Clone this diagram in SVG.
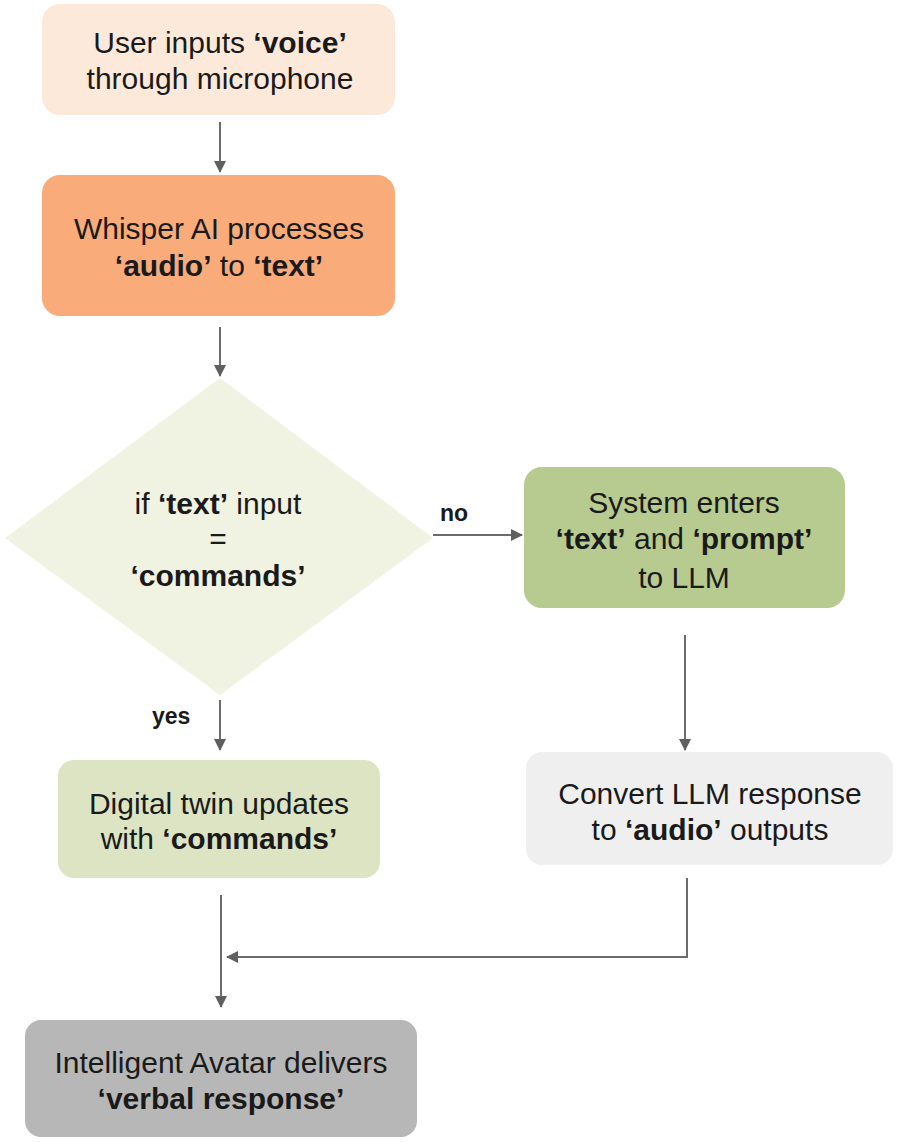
<svg xmlns="http://www.w3.org/2000/svg" width="899" height="1142" viewBox="0 0 899 1142">
<defs>
<style>
.t{font-family:"Liberation Sans",Arial,sans-serif;font-size:30px;fill:#1a1a1a;text-anchor:middle}
.b{font-weight:bold}
.lbl{font-family:"Liberation Sans",Arial,sans-serif;font-size:23px;font-weight:bold;fill:#1a1a1a}
.c{stroke:#6b6b6b;stroke-width:2;fill:none}
</style>
<marker id="ah" viewBox="0 0 12 12" refX="11" refY="6" markerWidth="12" markerHeight="12" markerUnits="userSpaceOnUse" orient="auto">
<path d="M0,0 L12,6 L0,12 Z" fill="#5f5f5f"/>
</marker>
</defs>
<rect width="899" height="1142" fill="#ffffff"/>
<g id="connectors">
<line class="c" x1="220" y1="122" x2="220" y2="172" marker-end="url(#ah)"/>
<line class="c" x1="220" y1="327" x2="220" y2="376" marker-end="url(#ah)"/>
<line class="c" x1="433" y1="535" x2="522" y2="535" marker-end="url(#ah)"/>
<line class="c" x1="685" y1="635" x2="685" y2="750" marker-end="url(#ah)"/>
<line class="c" x1="220" y1="700" x2="220" y2="750" marker-end="url(#ah)"/>
<line class="c" x1="221" y1="895" x2="221" y2="1007" marker-end="url(#ah)"/>
<polyline class="c" points="687,878 687,957 227,957" marker-end="url(#ah)"/>
<text class="lbl" x="440" y="521">no</text>
<text class="lbl" x="152" y="724">yes</text>
</g>
<g id="n1">
<rect x="42" y="4" width="353" height="111" rx="18" fill="#fde9da"/>
<text class="t" x="220" y="53">User inputs <tspan class="b">‘voice’</tspan></text>
<text class="t" x="220" y="89">through microphone</text>
</g>
<g id="n2">
<rect x="42" y="175" width="353" height="141" rx="18" fill="#f9ac7a"/>
<text class="t" x="219" y="239">Whisper AI processes</text>
<text class="t" x="219" y="276"><tspan class="b">‘audio’</tspan> to <tspan class="b">‘text’</tspan></text>
</g>
<g id="n3">
<polygon points="220,378 433,538 220,695 5,538" fill="#f0f2e2"/>
<text class="t" x="218" y="514">if <tspan class="b">‘text’</tspan> input</text>
<text class="t" x="218" y="549">=</text>
<text class="t" x="218" y="586"><tspan class="b">‘commands’</tspan></text>
</g>
<g id="n4">
<rect x="524" y="467" width="321" height="141" rx="18" fill="#b7ca90"/>
<text class="t" x="684" y="513">System enters</text>
<text class="t" x="684" y="549"><tspan class="b">‘text’</tspan> and <tspan class="b">‘prompt’</tspan></text>
<text class="t" x="684" y="588">to LLM</text>
</g>
<g id="n5">
<rect x="58" y="760" width="322" height="118" rx="16" fill="#dde4c3"/>
<text class="t" x="219" y="814">Digital twin updates</text>
<text class="t" x="219" y="849">with <tspan class="b">‘commands’</tspan></text>
</g>
<g id="n6">
<rect x="526" y="752" width="367" height="113" rx="16" fill="#efefef"/>
<text class="t" x="710" y="804">Convert LLM response</text>
<text class="t" x="710" y="840">to <tspan class="b">‘audio’</tspan> outputs</text>
</g>
<g id="n7">
<rect x="25" y="1020" width="392" height="117" rx="16" fill="#b7b7b7"/>
<text class="t" x="221" y="1073">Intelligent Avatar delivers</text>
<text class="t" x="221" y="1109"><tspan class="b">‘verbal response’</tspan></text>
</g>
</svg>
